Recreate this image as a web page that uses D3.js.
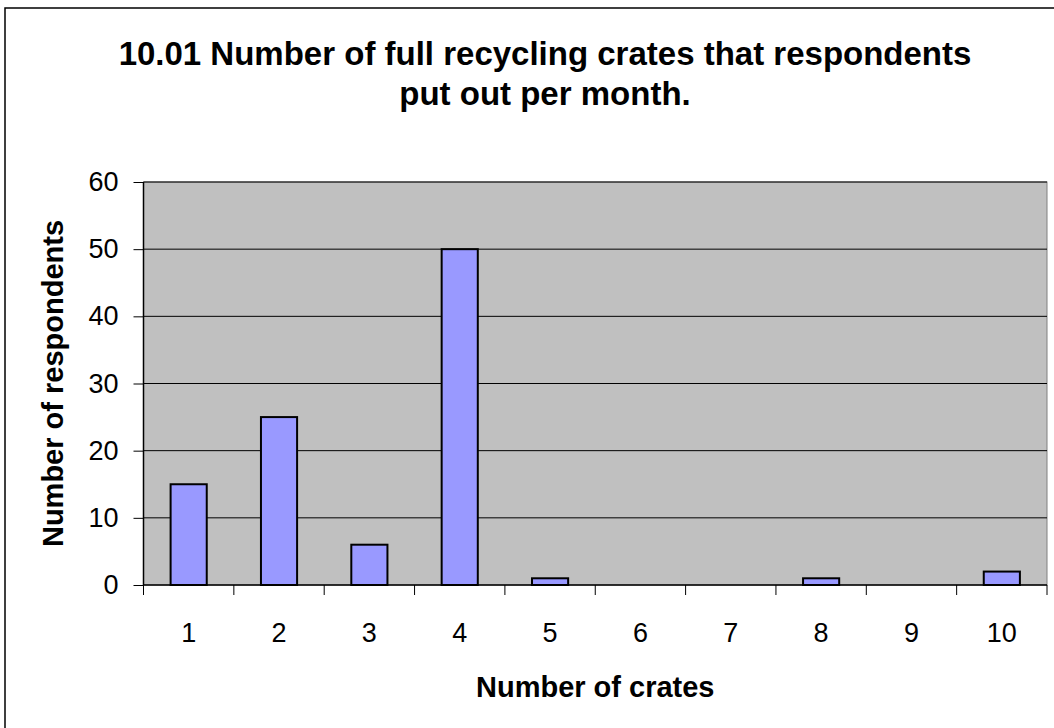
<!DOCTYPE html>
<html><head><meta charset="utf-8">
<script src="https://cdn.jsdelivr.net/npm/d3@7"></script>
<style>body{margin:0;background:#fff}svg{display:block}text{font-family:"Liberation Sans",Arial,sans-serif}</style>
</head><body>
<svg id="c" width="1054" height="728"></svg>
<script>
const categories = ["1","2","3","4","5","6","7","8","9","10"];
const values = [15,25,6,50,1,0,0,1,0,2];
const yTicks = [0,10,20,30,40,50,60];
const titleLines = ["10.01 Number of full recycling crates that respondents","put out per month."];
const xTitle = "Number of crates";
const yTitle = "Number of respondents";

const svg = d3.select("#c");
svg.append("rect").attr("x",5).attr("y",8).attr("width",1070).attr("height",740)
  .attr("fill","#fff").attr("stroke","#000").attr("stroke-width",1.5);

const L=143.5,R=1047,T=182,B=585;
const x = d3.scaleBand().domain(categories).range([L,R]).paddingInner(0.6).paddingOuter(0.3);
const xb = d3.scaleBand().domain(categories).range([L,R]);
const y = d3.scaleLinear().domain([0,60]).range([B,T]);

svg.append("rect").attr("x",L).attr("y",T).attr("width",R-L).attr("height",B-T)
  .attr("fill","#C0C0C0").attr("stroke","#808080").attr("stroke-width",1);

svg.append("g").selectAll("line").data(yTicks.filter(d=>d>0)).join("line")
  .attr("x1",L).attr("x2",R).attr("y1",d=>y(d)).attr("y2",d=>y(d))
  .attr("stroke","#000").attr("stroke-width",1);

svg.append("g").selectAll("rect").data(values).join("rect")
  .attr("x",(d,i)=>x(categories[i])).attr("width",x.bandwidth())
  .attr("y",d=>y(d)).attr("height",d=>B-y(d))
  .attr("fill","#9999FF").attr("stroke","#000").attr("stroke-width",2);

// y axis
const ya = svg.append("g").attr("transform",`translate(${L},0)`)
  .call(d3.axisLeft(y).tickValues(yTicks).tickSize(10).tickPadding(15).tickFormat(d3.format("d")));
ya.select(".domain").attr("stroke","#000").attr("stroke-width",1.5).attr("d",`M0,${T}V${B}`);
ya.selectAll("text").attr("font-size",27).attr("fill","#000").attr("font-family","Liberation Sans, Arial, sans-serif");
ya.selectAll(".tick line").attr("stroke","#000");

// x axis
const xa = svg.append("g").attr("transform",`translate(0,${B})`)
  .call(d3.axisBottom(xb).tickValues([]).tickSize(0));
xa.select(".domain").attr("stroke","#000").attr("stroke-width",1.5).attr("d",`M${L},0H${R}`);
const edges = categories.map(c=>xb(c)).concat([R]);
xa.selectAll("line.edge").data(edges).join("line").attr("class","edge")
  .attr("x1",d=>d).attr("x2",d=>d).attr("y1",0).attr("y2",10).attr("stroke","#000");
xa.selectAll("text.lab").data(categories).join("text").attr("class","lab")
  .attr("x",d=>xb(d)+xb.bandwidth()/2).attr("y",57).attr("text-anchor","middle")
  .attr("font-size",27).attr("fill","#000").text(d=>d);

// titles
svg.append("g").selectAll("text").data(titleLines).join("text")
  .attr("x",545).attr("y",(d,i)=>65+i*40).attr("text-anchor","middle")
  .attr("font-size",33).attr("font-weight","bold").text(d=>d);
svg.append("text").attr("x",(L+R)/2).attr("y",697).attr("text-anchor","middle")
  .attr("font-size",29).attr("font-weight","bold").text(xTitle);
svg.append("text").attr("transform",`translate(63,${(T+B)/2}) rotate(-90)`).attr("text-anchor","middle")
  .attr("font-size",29).attr("font-weight","bold").text(yTitle);
</script>
</body></html>
